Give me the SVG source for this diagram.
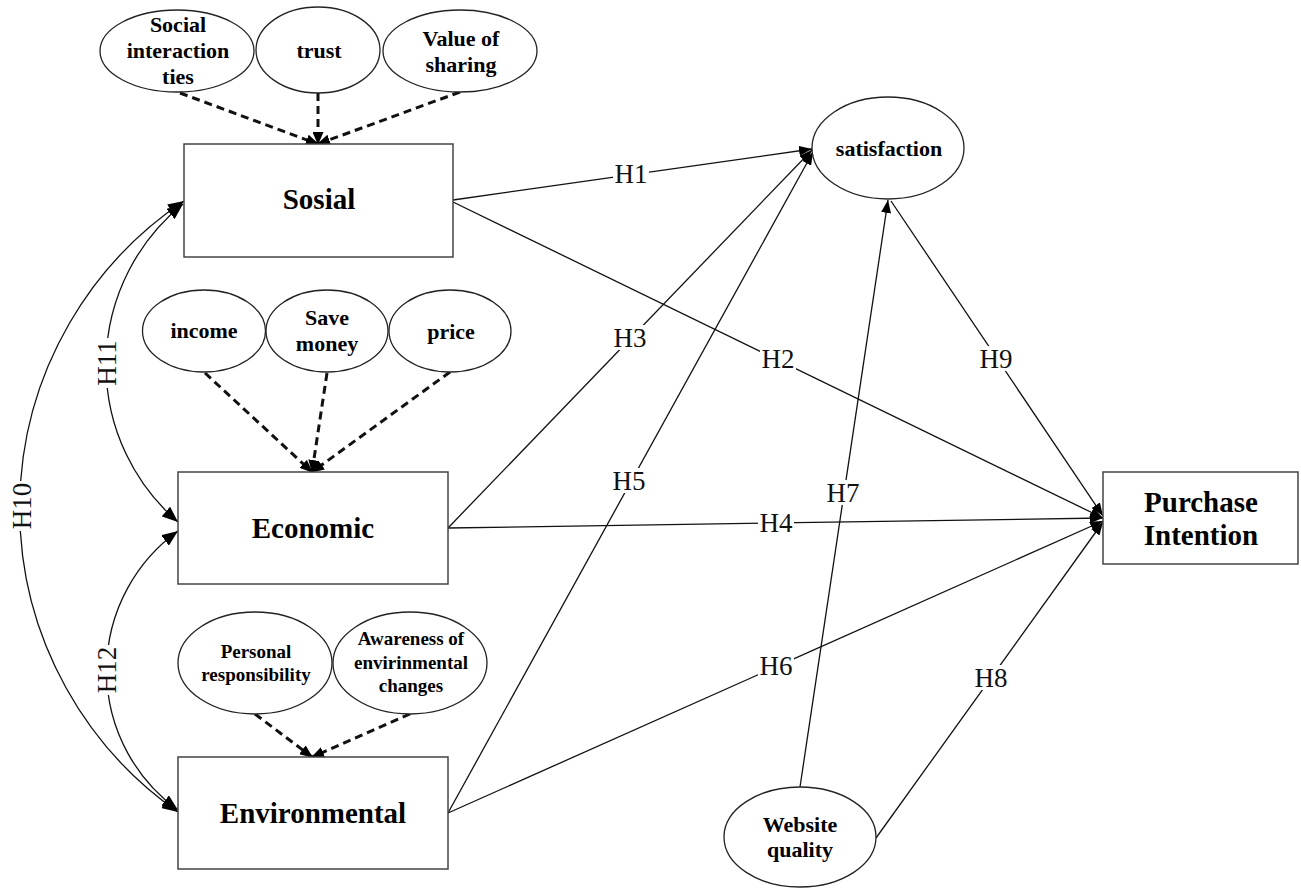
<svg xmlns="http://www.w3.org/2000/svg" width="1301" height="888" viewBox="0 0 1301 888">
<defs>
<style>
.box{fill:#fff;stroke:#444;stroke-width:1.5}
.ell{fill:#fff;stroke:#222;stroke-width:1.3}
.nt{font-family:"Liberation Serif","Times New Roman",serif;font-weight:bold;fill:#000;text-anchor:middle}
.big{font-size:29px}
.sm{font-size:22px}
.xs{font-size:19px}
.ln{fill:none;stroke:#111;stroke-width:1.3}
.dash{fill:none;stroke:#111;stroke-width:3;stroke-dasharray:8 5}
.bg{fill:#fff;stroke:none}
.hl{font-family:"Liberation Serif","Times New Roman",serif;font-size:27px;fill:#111;text-anchor:middle}
</style>
<marker id="a" markerUnits="userSpaceOnUse" markerWidth="13" markerHeight="10" refX="13" refY="5" orient="auto"><path d="M0,0 L13,5 L0,10 z" fill="#000"/></marker>
<marker id="ad" markerUnits="userSpaceOnUse" markerWidth="13" markerHeight="11" refX="12" refY="5.5" orient="auto"><path d="M0,0 L13,5.5 L0,11 z" fill="#000"/></marker>
<marker id="ab" markerUnits="userSpaceOnUse" markerWidth="16" markerHeight="13" refX="16" refY="6.5" orient="auto-start-reverse"><path d="M0,0 L16,6.5 L0,13 z" fill="#000"/></marker>
</defs>
<rect width="1301" height="888" fill="#fff"/>

<g id="connectors">
<line class="dash" x1="180" y1="93" x2="318" y2="144" marker-end="url(#ad)"/>
<line class="dash" x1="318" y1="93" x2="318" y2="144" marker-end="url(#ad)"/>
<line class="dash" x1="460" y1="92" x2="318" y2="144" marker-end="url(#ad)"/>
<line class="dash" x1="205" y1="373" x2="312" y2="472" marker-end="url(#ad)"/>
<line class="dash" x1="327" y1="373" x2="312" y2="472" marker-end="url(#ad)"/>
<line class="dash" x1="450" y1="372" x2="312" y2="472" marker-end="url(#ad)"/>
<line class="dash" x1="255" y1="714" x2="312" y2="757" marker-end="url(#ad)"/>
<line class="dash" x1="410" y1="714" x2="312" y2="757" marker-end="url(#ad)"/>

<path class="ln" d="M184,201 A370,370 0 0 0 178,812" marker-start="url(#ab)" marker-end="url(#ab)"/>
<path class="ln" d="M183,204 A207,207 0 0 0 178,522" marker-start="url(#ab)" marker-end="url(#ab)"/>
<path class="ln" d="M178,531 A172,172 0 0 0 178,810" marker-start="url(#ab)" marker-end="url(#ab)"/>

<line class="ln" x1="453" y1="200" x2="812" y2="149" marker-end="url(#a)"/>
<line class="ln" x1="453" y1="202" x2="1103" y2="518" marker-end="url(#a)"/>
<line class="ln" x1="448" y1="528" x2="812" y2="150" marker-end="url(#a)"/>
<line class="ln" x1="448" y1="528" x2="1103" y2="518" marker-end="url(#a)"/>
<line class="ln" x1="448" y1="813" x2="813" y2="152" marker-end="url(#a)"/>
<line class="ln" x1="448" y1="813" x2="1103" y2="521" marker-end="url(#a)"/>
<line class="ln" x1="800" y1="787" x2="888" y2="200" marker-end="url(#a)"/>
<line class="ln" x1="876" y1="838" x2="1103" y2="522" marker-end="url(#a)"/>
<line class="ln" x1="891" y1="201" x2="1103" y2="516" marker-end="url(#a)"/>

<rect class="bg" x="613" y="161" width="36" height="25"/>
<rect class="bg" x="760" y="346" width="36" height="25"/>
<rect class="bg" x="612" y="325" width="36" height="25"/>
<rect class="bg" x="758" y="510" width="36" height="25"/>
<rect class="bg" x="611" y="468" width="36" height="25"/>
<rect class="bg" x="758" y="653" width="36" height="25"/>
<rect class="bg" x="825" y="480" width="36" height="25"/>
<rect class="bg" x="973" y="665" width="36" height="25"/>
<rect class="bg" x="978" y="346" width="36" height="25"/>
<rect class="bg" x="9" y="481" width="25" height="50"/>
<rect class="bg" x="94" y="338" width="26" height="50"/>
<rect class="bg" x="94" y="645" width="26" height="50"/>

<text class="hl" x="631" y="183">H1</text>
<text class="hl" x="778" y="368">H2</text>
<text class="hl" x="630" y="347">H3</text>
<text class="hl" x="776" y="532">H4</text>
<text class="hl" x="629" y="490">H5</text>
<text class="hl" x="776" y="675">H6</text>
<text class="hl" x="843" y="502">H7</text>
<text class="hl" x="991" y="687">H8</text>
<text class="hl" x="996" y="368">H9</text>
<text class="hl" transform="translate(22,506) rotate(-90)" x="0" y="9">H10</text>
<text class="hl" transform="translate(107,363) rotate(-90)" x="0" y="9">H11</text>
<text class="hl" transform="translate(107,670) rotate(-90)" x="0" y="9">H12</text>
</g>

<g id="social-interaction-ties">
<ellipse class="ell" cx="177" cy="51" rx="77" ry="41"/>
<text class="nt sm" x="178" y="32">Social</text>
<text class="nt sm" x="178" y="58">interaction</text>
<text class="nt sm" x="178" y="84">ties</text>
</g>
<g id="trust">
<ellipse class="ell" cx="318" cy="50" rx="62" ry="43"/>
<text class="nt sm" x="319" y="58">trust</text>
</g>
<g id="value-of-sharing">
<ellipse class="ell" cx="460" cy="51" rx="77" ry="41"/>
<text class="nt sm" x="461" y="46">Value of</text>
<text class="nt sm" x="461" y="72">sharing</text>
</g>

<g id="sosial">
<rect class="box" x="184" y="144" width="269" height="113"/>
<text class="nt big" x="319" y="209">Sosial</text>
</g>

<g id="income">
<ellipse class="ell" cx="204" cy="331" rx="61.5" ry="41"/>
<text class="nt sm" x="204" y="338">income</text>
</g>
<g id="save-money">
<ellipse class="ell" cx="327" cy="331" rx="61" ry="41"/>
<text class="nt sm" x="327" y="325">Save</text>
<text class="nt sm" x="327" y="351">money</text>
</g>
<g id="price">
<ellipse class="ell" cx="450" cy="331" rx="61" ry="41"/>
<text class="nt sm" x="451" y="339">price</text>
</g>

<g id="economic">
<rect class="box" x="178" y="472" width="270" height="112"/>
<text class="nt big" x="313" y="538">Economic</text>
</g>

<g id="personal-responsibility">
<ellipse class="ell" cx="255" cy="663" rx="77" ry="51"/>
<text class="nt xs" x="256" y="658">Personal</text>
<text class="nt xs" x="256" y="681">responsibility</text>
</g>
<g id="awareness">
<ellipse class="ell" cx="410" cy="663" rx="77" ry="51"/>
<text class="nt xs" x="411" y="645">Awareness of</text>
<text class="nt xs" x="411" y="669">envirinmental</text>
<text class="nt xs" x="411" y="692">changes</text>
</g>

<g id="environmental">
<rect class="box" x="178" y="757" width="270" height="112"/>
<text class="nt big" x="313" y="823">Environmental</text>
</g>

<g id="satisfaction">
<ellipse class="ell" cx="888" cy="148" rx="76" ry="51"/>
<text class="nt sm" x="889" y="156">satisfaction</text>
</g>

<g id="website-quality">
<ellipse class="ell" cx="800" cy="837" rx="76" ry="50"/>
<text class="nt sm" x="800" y="832">Website</text>
<text class="nt sm" x="800" y="857">quality</text>
</g>

<g id="purchase-intention">
<rect class="box" x="1103" y="472" width="195" height="92"/>
<text class="nt big" x="1201" y="512">Purchase</text>
<text class="nt big" x="1201" y="545">Intention</text>
</g>
</svg>
